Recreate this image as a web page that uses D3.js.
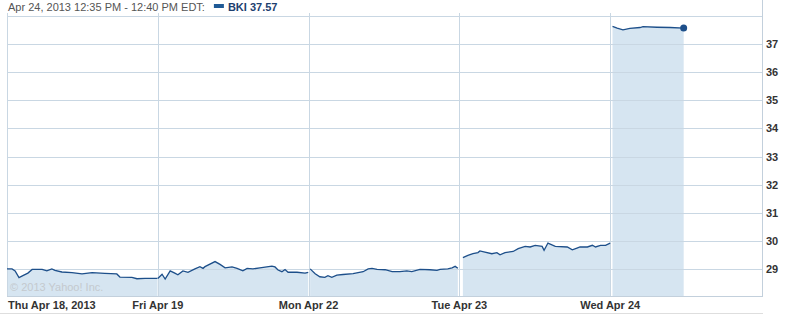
<!DOCTYPE html>
<html>
<head>
<meta charset="utf-8">
<script src="https://cdn.jsdelivr.net/npm/d3@7"></script>
<style>
  body { margin: 0; background: #fff; }
  svg { display: block; font-family: "Liberation Sans", Arial, sans-serif; }
</style>
</head>
<body>
<svg id="chart" width="788" height="314"></svg>
<script>
"use strict";

// minutes after the 9:30 open, price
var thu = [[0,29.0],[13,29.0],[21,28.93],[31,28.69],[41,28.76],[54,28.85],[65,28.98],[91,28.98],
  [103,28.93],[116,29.0],[124,28.95],[142,28.89],[168,28.87],[194,28.82],[220,28.87],[253,28.84],
  [284,28.82],[292,28.71],[323,28.70],[336,28.65],[357,28.66],[389,28.66]];
var fri = [[0,28.66],[11,28.81],[19,28.64],[32,28.93],[44,28.85],[52,28.79],[65,28.93],[78,28.88],
  [96,29.0],[109,29.08],[117,29.02],[122,29.08],[148,29.26],[161,29.16],[174,29.04],[192,29.07],
  [205,29.02],[220,28.93],[231,29.02],[246,29.0],[264,29.04],[295,29.1],[303,29.07],[311,28.96],
  [321,28.9],[329,28.98],[337,28.88],[360,28.88],[381,28.85],[389,28.88]];
var mon = [[4,29.0],[17,28.83],[29,28.72],[42,28.70],[50,28.76],[60,28.70],[73,28.78],[89,28.80],
  [115,28.83],[141,28.90],[154,29.0],[164,29.02],[177,28.98],[198,28.97],[216,28.90],[236,28.90],
  [254,28.93],[267,28.90],[288,28.98],[314,28.97],[332,28.95],[340,28.98],[360,29.0],[371,29.04],
  [379,29.09],[386,29.02]];
var tue = [[9,29.40],[22,29.48],[35,29.54],[48,29.58],[53,29.64],[66,29.60],[84,29.54],[97,29.58],
  [105,29.50],[118,29.58],[139,29.62],[152,29.72],[170,29.80],[183,29.78],[196,29.84],[214,29.80],
  [219,29.66],[229,29.92],[248,29.80],[279,29.78],[292,29.68],[304,29.74],[312,29.78],[331,29.78],
  [344,29.84],[352,29.78],[365,29.84],[378,29.84],[390,29.92]];
var wed = [[6,37.63],[18,37.57],[33,37.51],[51,37.56],[77,37.59],[85,37.62],[121,37.60],[155,37.59],[190,37.57]];

var days = [thu, fri, mon, tue, wed];
var dayLabels = ["Thu Apr 18, 2013", "Fri Apr 19", "Mon Apr 22", "Tue Apr 23", "Wed Apr 24"];
var yTicks = [29, 30, 31, 32, 33, 34, 35, 36, 37];
var headerText = "Apr 24, 2013 12:35 PM - 12:40 PM EDT:";
var symbol = "BKI";
var lastPrice = 37.57;

function drawChart() {
  var svg = d3.select("#chart");
  var left = 7, right = 762, plotTop = 16, bottom = 296;

  var x = d3.scaleLinear().domain([0, 5]).range([left, right - 1]);
  var y = d3.scaleLinear().domain([28, 38]).range([297, plotTop]);

  function px(dayIdx) {
    return function (d) { return x(dayIdx + d[0] / 390); };
  }

  var gridColor = "#c9d7e3";

  // area fills first
  days.forEach(function (data, i) {
    var area = d3.area()
      .x(px(i))
      .y0(bottom)
      .y1(function (d) { return y(d[1]); });
    svg.append("path")
      .datum(data)
      .attr("d", area)
      .style("fill", "#d6e5f1");
  });

  // copyright
  svg.append("text")
    .text("\u00a9 2013 Yahoo! Inc.")
    .attr("x", 10)
    .attr("y", 291)
    .style("font-size", "11px")
    .style("fill", "#c4c9ce");

  // horizontal grid
  svg.append("g").selectAll("line")
    .data(yTicks.concat([38]))
    .enter().append("line")
    .attr("x1", left).attr("x2", right)
    .attr("y1", function (d) { return Math.round(y(d)) + 0.5; })
    .attr("y2", function (d) { return Math.round(y(d)) + 0.5; })
    .style("stroke", gridColor);

  // vertical day grid
  svg.append("g").selectAll("line")
    .data(d3.range(0, 5))
    .enter().append("line")
    .attr("x1", function (d) { return Math.round(x(d)) + 0.5; })
    .attr("x2", function (d) { return Math.round(x(d)) + 0.5; })
    .attr("y1", plotTop - 3).attr("y2", bottom)
    .style("stroke", gridColor);

  // right axis line + bottom lines
  svg.append("line")
    .attr("x1", right + 0.5).attr("x2", right + 0.5)
    .attr("y1", 0).attr("y2", bottom + 0.5)
    .style("stroke", "#c3d0dc");
  svg.append("line")
    .attr("x1", left).attr("x2", right + 1)
    .attr("y1", bottom + 0.5).attr("y2", bottom + 0.5)
    .style("stroke", "#c3d0dc");
  svg.append("line")
    .attr("x1", 0).attr("x2", right + 1)
    .attr("y1", 313.5).attr("y2", 313.5)
    .style("stroke", "#dedede");

  // price lines
  days.forEach(function (data, i) {
    var line = d3.line()
      .x(px(i))
      .y(function (d) { return y(d[1]); });
    svg.append("path")
      .datum(data)
      .attr("d", line)
      .style("fill", "none")
      .style("stroke", "#1d4f8a")
      .style("stroke-width", 1.3);
  });

  // last point dot
  var last = wed[wed.length - 1];
  svg.append("circle")
    .attr("cx", px(4)(last))
    .attr("cy", y(last[1]))
    .attr("r", 3.5)
    .style("fill", "#1d4f8a");

  // right axis labels
  var yAxis = d3.axisRight(y).tickValues(yTicks).tickSize(0).tickPadding(4);
  var yg = svg.append("g")
    .attr("transform", "translate(" + right + ",0)")
    .call(yAxis);
  yg.select(".domain").remove();
  yg.selectAll("text")
    .style("font-family", "'Liberation Sans', Arial, sans-serif")
    .style("font-size", "11px")
    .style("font-weight", "bold")
    .style("fill", "#333");

  // bottom labels
  svg.append("g").selectAll("text")
    .data(dayLabels)
    .enter().append("text")
    .text(function (d) { return d; })
    .attr("x", function (d, i) { return i === 0 ? left + 1 : x(i); })
    .attr("y", 309)
    .attr("text-anchor", function (d, i) { return i === 0 ? "start" : "middle"; })
    .style("font-size", "11px")
    .style("font-weight", "bold")
    .style("fill", "#333");

  // header
  var header = svg.append("text")
    .attr("x", 8)
    .attr("y", 11)
    .style("font-size", "11px")
    .style("fill", "#555")
    .text(headerText);
  var hw = header.node().getComputedTextLength();
  svg.append("rect")
    .attr("x", 8 + hw + 9)
    .attr("y", 4)
    .attr("width", 10)
    .attr("height", 4)
    .style("fill", "#1f5a96");
  svg.append("text")
    .attr("x", 8 + hw + 23)
    .attr("y", 11)
    .style("font-size", "11px")
    .style("font-weight", "bold")
    .style("fill", "#1d4070")
    .text(symbol + " " + lastPrice.toFixed(2));
}

drawChart();
</script>
</body>
</html>
